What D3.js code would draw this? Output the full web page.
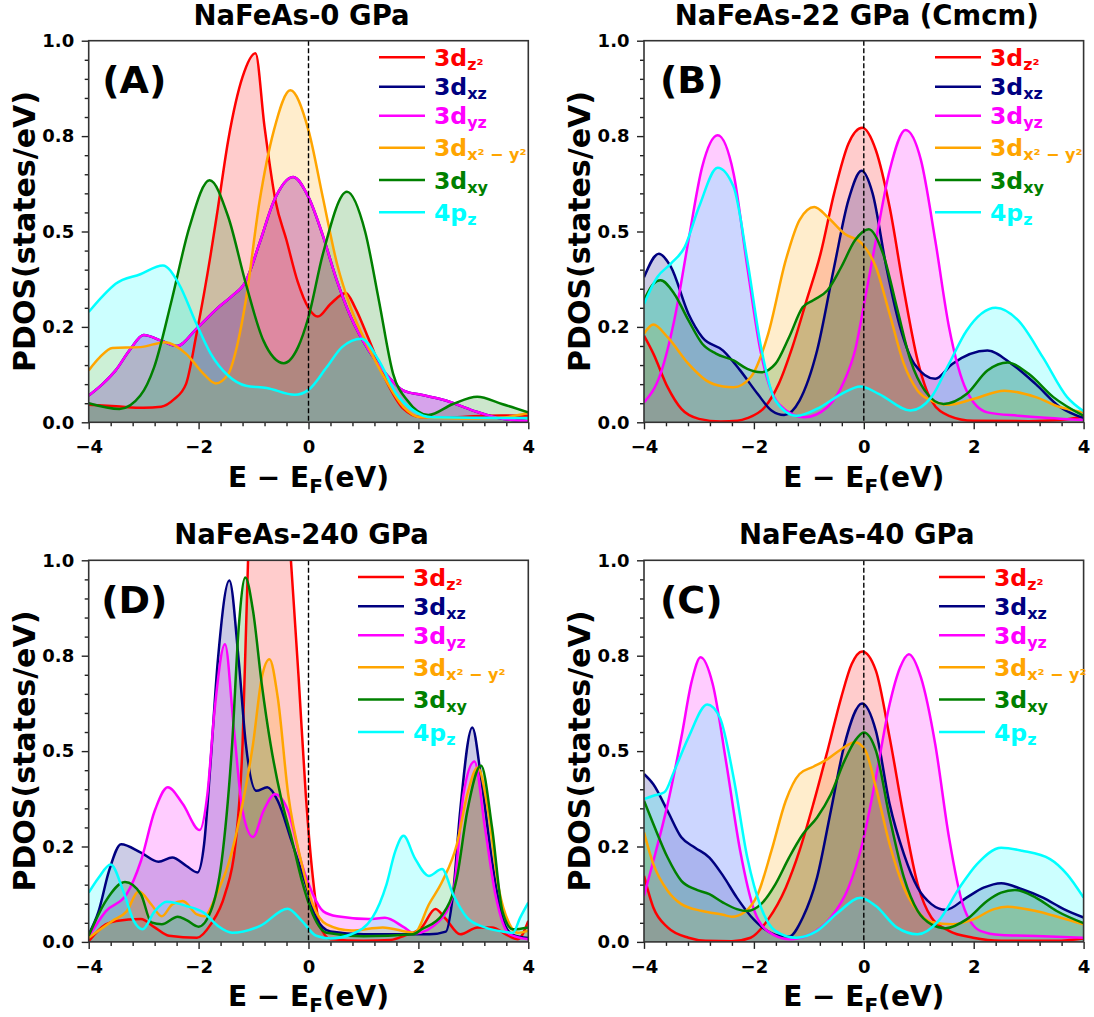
<!DOCTYPE html>
<html><head><meta charset="utf-8">
<script src="https://cdn.jsdelivr.net/npm/d3@7"></script>
<style>
body{margin:0;background:#fff}
text{font-family:"DejaVu Sans",sans-serif;font-weight:bold}
</style>
</head><body>
<svg id="chart" width="1094" height="1017"></svg>
<script>
// ---------------- DATA (E - E_F in eV, PDOS in states/eV) ----------------
const orbitals   = ["3dz2", "3dxz", "3dyz", "3dx2-y2", "3dxy", "4pz"];
const legendMain = ["3d", "3d", "3d", "3d", "3d", "4p"];
const legendSub  = ["z\u00B2", "xz", "yz", "x\u00B2 \u2212 y\u00B2", "xy", "z"];
const xTicks = [-4, -2, 0, 2, 4];
const xTickLabels = ["\u22124", "\u22122", "0", "2", "4"];
const yTicks = [0, 0.25, 0.5, 0.75, 1.0];
const yTickLabels = ["0.0", "0.2", "0.5", "0.8", "1.0"];
const panelTitles = ["NaFeAs-0 GPa", "NaFeAs-22 GPa (Cmcm)", "NaFeAs-240 GPa", "NaFeAs-40 GPa"];
const panelTags = ["(A)", "(B)", "(D)", "(C)"];

// Panel A : 0 GPa
const A_dz2 = [[-4,0.046],[-3.5,0.042],[-3.0,0.038],[-2.68,0.041],[-2.45,0.06],[-2.23,0.10],[-2.04,0.23],[-1.78,0.44],[-1.65,0.56],[-1.46,0.74],[-1.2,0.905],[-0.965,0.967],[-0.8,0.774],[-0.6,0.58],[-0.4,0.477],[-0.2,0.37],[0.0,0.30],[0.17,0.277],[0.4,0.31],[0.68,0.339],[0.85,0.3],[1.09,0.22],[1.41,0.11],[1.73,0.035],[2.05,0.013],[2.5,0.012],[3.0,0.016],[3.5,0.018],[4,0.017]];
const A_dxz = [[-4,0.07],[-3.75,0.1],[-3.51,0.136],[-3.25,0.19],[-3.0,0.229],[-2.68,0.214],[-2.39,0.2],[-2.04,0.245],[-1.65,0.30],[-1.4,0.33],[-1.14,0.37],[-0.89,0.47],[-0.63,0.58],[-0.28,0.643],[0,0.59],[0.26,0.49],[0.52,0.37],[0.77,0.276],[1.09,0.19],[1.41,0.127],[1.73,0.083],[2.05,0.072],[2.5,0.057],[3.01,0.03],[3.46,0.011],[4,0.003]];
const A_dyz = [[-4,0.07],[-3.75,0.1],[-3.51,0.136],[-3.25,0.19],[-3.0,0.229],[-2.68,0.214],[-2.39,0.2],[-2.04,0.245],[-1.65,0.30],[-1.4,0.33],[-1.14,0.37],[-0.89,0.47],[-0.63,0.58],[-0.28,0.643],[0,0.59],[0.26,0.49],[0.52,0.37],[0.77,0.276],[1.09,0.19],[1.41,0.127],[1.73,0.083],[2.05,0.072],[2.5,0.057],[3.01,0.03],[3.46,0.011],[4,0.003]];
const A_dx2 = [[-4,0.136],[-3.8,0.17],[-3.57,0.195],[-3.06,0.197],[-2.61,0.21],[-2.23,0.18],[-1.91,0.127],[-1.69,0.102],[-1.46,0.127],[-1.3,0.2],[-1.14,0.32],[-0.89,0.58],[-0.63,0.765],[-0.33,0.87],[0,0.765],[0.26,0.59],[0.52,0.415],[0.77,0.30],[1.09,0.197],[1.41,0.11],[1.73,0.04],[2.05,0.013],[2.8,0.01],[3.5,0.012],[4,0.025]];
const A_dxy = [[-4,0.05],[-3.44,0.035],[-3.06,0.07],[-2.81,0.144],[-2.49,0.32],[-2.17,0.51],[-1.8,0.634],[-1.46,0.538],[-1.14,0.363],[-0.82,0.214],[-0.45,0.155],[-0.19,0.197],[0,0.276],[0.26,0.44],[0.7,0.604],[1.03,0.50],[1.28,0.32],[1.54,0.127],[1.8,0.057],[2.18,0.019],[2.63,0.048],[3.07,0.067],[3.52,0.048],[4,0.026]];
const A_pz  = [[-4,0.289],[-3.75,0.33],[-3.51,0.363],[-3.06,0.388],[-2.65,0.411],[-2.36,0.363],[-2.04,0.258],[-1.78,0.18],[-1.46,0.122],[-1.14,0.096],[-0.76,0.09],[-0.25,0.072],[0,0.085],[0.33,0.144],[0.61,0.197],[0.96,0.219],[1.28,0.162],[1.6,0.074],[1.92,0.03],[2.24,0.013],[3,0.012],[4,0.011]];

// Panel B : 22 GPa (Cmcm)
const B_dz2 = [[-4,0.227],[-3.83,0.18],[-3.57,0.092],[-3.32,0.035],[-3.0,0.009],[-2.6,0.002],[-2.3,0.004],[-2.12,0.011],[-1.8,0.04],[-1.55,0.10],[-1.3,0.197],[-1.04,0.32],[-0.79,0.44],[-0.54,0.60],[-0.28,0.73],[-0.03,0.772],[0.22,0.713],[0.47,0.564],[0.73,0.346],[0.98,0.162],[1.23,0.057],[1.55,0.017],[1.99,0.004],[3,0.003],[3.6,0.006],[4,0.015]];
const B_dxz = [[-4,0.38],[-3.73,0.442],[-3.51,0.407],[-3.19,0.284],[-2.94,0.223],[-2.56,0.188],[-2.25,0.136],[-1.93,0.074],[-1.68,0.031],[-1.45,0.019],[-1.17,0.057],[-0.85,0.188],[-0.54,0.407],[-0.28,0.582],[-0.04,0.659],[0.16,0.60],[0.41,0.407],[0.66,0.25],[0.92,0.153],[1.3,0.114],[1.61,0.153],[2.25,0.188],[2.69,0.153],[3.13,0.10],[3.57,0.04],[4,0.011]];
const B_dyz = [[-4,0.052],[-3.7,0.127],[-3.45,0.267],[-3.19,0.477],[-2.94,0.67],[-2.66,0.752],[-2.37,0.652],[-2.12,0.407],[-1.87,0.18],[-1.55,0.048],[-1.08,0.013],[-0.66,0.04],[-0.35,0.11],[-0.16,0.188],[0.03,0.33],[0.22,0.477],[0.47,0.66],[0.76,0.766],[1.04,0.687],[1.3,0.477],[1.55,0.25],[1.87,0.083],[2.25,0.026],[2.82,0.017],[4,0.006]];
const B_dx2 = [[-4,0.232],[-3.83,0.256],[-3.57,0.223],[-3.19,0.153],[-2.87,0.11],[-2.56,0.094],[-2.37,0.092],[-2.06,0.118],[-1.74,0.232],[-1.42,0.425],[-1.17,0.53],[-0.9,0.564],[-0.66,0.538],[-0.35,0.494],[-0.03,0.468],[0.22,0.407],[0.47,0.284],[0.73,0.153],[0.98,0.083],[1.23,0.057],[1.55,0.046],[1.99,0.061],[2.56,0.083],[3.13,0.066],[3.57,0.04],[4,0.026]];
const B_dxy = [[-4,0.32],[-3.83,0.363],[-3.7,0.372],[-3.45,0.337],[-3.19,0.267],[-2.94,0.206],[-2.69,0.18],[-2.37,0.162],[-2.12,0.14],[-1.87,0.131],[-1.61,0.153],[-1.36,0.223],[-1.11,0.302],[-0.92,0.32],[-0.66,0.346],[-0.41,0.407],[-0.16,0.477],[0.09,0.506],[0.35,0.442],[0.6,0.302],[0.85,0.162],[1.11,0.083],[1.45,0.048],[1.87,0.074],[2.25,0.136],[2.62,0.157],[3.0,0.127],[3.45,0.066],[4,0.017]];
const B_pz  = [[-4,0.31],[-3.76,0.38],[-3.51,0.416],[-3.26,0.459],[-3.0,0.564],[-2.66,0.667],[-2.37,0.617],[-2.12,0.425],[-1.87,0.197],[-1.61,0.057],[-1.23,0.017],[-0.79,0.04],[-0.41,0.074],[-0.06,0.094],[0.28,0.074],[0.85,0.031],[1.23,0.066],[1.55,0.153],[1.87,0.24],[2.4,0.30],[2.81,0.267],[3.26,0.17],[3.7,0.066],[4,0.029]];

// Panel D : 240 GPa
const D_dz2 = [[-4,0.002],[-3.69,0.046],[-3.5,0.055],[-3.05,0.06],[-2.8,0.038],[-2.54,0.016],[-2.03,0.011],[-1.78,0.046],[-1.52,0.125],[-1.33,0.256],[-1.2,0.518],[-1.1,1.0],[-0.9,1.5],[-0.7,1.6],[-0.5,1.4],[-0.32,1.0],[-0.18,0.693],[-0.05,0.387],[0.08,0.168],[0.2,0.046],[0.4,0.007],[1.0,0.003],[1.5,0.005],[1.74,0.016],[2.06,0.038],[2.31,0.086],[2.5,0.06],[2.76,0.02],[3.08,0.038],[3.34,0.038],[3.59,0.02],[3.81,0.007],[4,0.055]];
const D_dxz = [[-4,0.02],[-3.82,0.08],[-3.63,0.186],[-3.41,0.256],[-3.05,0.234],[-2.73,0.21],[-2.48,0.221],[-2.22,0.199],[-2.02,0.182],[-1.9,0.256],[-1.78,0.475],[-1.65,0.737],[-1.44,0.947],[-1.27,0.737],[-1.14,0.518],[-0.95,0.396],[-0.75,0.405],[-0.56,0.37],[-0.31,0.265],[-0.05,0.151],[0.14,0.063],[0.4,0.027],[1.0,0.02],[2.2,0.02],[2.5,0.027],[2.63,0.125],[2.76,0.343],[2.98,0.562],[3.14,0.431],[3.34,0.212],[3.53,0.063],[3.72,0.018],[4,0.01]];
const D_dyz = [[-4,0.013],[-3.69,0.08],[-3.31,0.125],[-3.05,0.212],[-2.8,0.343],[-2.56,0.405],[-2.29,0.362],[-1.98,0.293],[-1.84,0.387],[-1.71,0.606],[-1.52,0.78],[-1.36,0.562],[-1.2,0.343],[-1.01,0.275],[-0.82,0.343],[-0.61,0.387],[-0.37,0.343],[-0.12,0.203],[0.08,0.125],[0.27,0.08],[0.52,0.067],[1.1,0.06],[1.39,0.063],[1.74,0.038],[1.93,0.022],[2.38,0.055],[2.63,0.125],[2.82,0.387],[3.02,0.473],[3.21,0.3],[3.4,0.125],[3.66,0.02],[4,0.007]];
const D_dx2 = [[-4,0.011],[-3.57,0.055],[-3.31,0.08],[-3.09,0.133],[-2.86,0.098],[-2.67,0.067],[-2.48,0.098],[-2.29,0.107],[-2.03,0.072],[-1.9,0.067],[-1.65,0.133],[-1.46,0.203],[-1.2,0.362],[-1.01,0.518],[-0.85,0.693],[-0.71,0.741],[-0.56,0.641],[-0.37,0.387],[-0.12,0.203],[0.08,0.098],[0.33,0.046],[0.78,0.03],[1.35,0.038],[1.93,0.024],[2.19,0.098],[2.44,0.16],[2.7,0.256],[2.89,0.387],[3.08,0.457],[3.27,0.343],[3.46,0.142],[3.66,0.046],[3.81,0.024],[4,0.029]];
const D_dxy = [[-4,0.016],[-3.69,0.107],[-3.34,0.157],[-3.05,0.125],[-2.86,0.051],[-2.67,0.046],[-2.38,0.066],[-2.22,0.057],[-2.0,0.04],[-1.78,0.08],[-1.58,0.212],[-1.39,0.518],[-1.27,0.824],[-1.15,0.955],[-1.01,0.868],[-0.85,0.675],[-0.69,0.518],[-0.5,0.378],[-0.31,0.273],[-0.12,0.16],[0.08,0.072],[0.33,0.024],[1.0,0.015],[1.9,0.02],[2.06,0.033],[2.44,0.072],[2.7,0.168],[2.89,0.343],[3.14,0.462],[3.34,0.3],[3.53,0.08],[3.72,0.033],[4,0.038]];
const D_pz  = [[-4,0.129],[-3.82,0.168],[-3.6,0.203],[-3.37,0.133],[-3.18,0.055],[-3.02,0.033],[-2.8,0.08],[-2.58,0.105],[-2.22,0.094],[-1.9,0.076],[-1.65,0.042],[-1.39,0.024],[-0.88,0.042],[-0.38,0.087],[-0.12,0.055],[0.14,0.016],[0.4,0.009],[0.78,0.02],[1.16,0.063],[1.42,0.151],[1.58,0.238],[1.73,0.278],[1.93,0.221],[2.19,0.173],[2.43,0.191],[2.63,0.125],[2.89,0.063],[3.21,0.038],[3.53,0.027],[3.72,0.024],[3.85,0.063],[4,0.103]];

// Panel C : 40 GPa
const C_dz2 = [[-4,0.173],[-3.83,0.09],[-3.57,0.038],[-3.19,0.011],[-2.88,0.003],[-2.4,0.002],[-2.06,0.011],[-1.74,0.059],[-1.42,0.142],[-1.17,0.239],[-0.92,0.361],[-0.66,0.501],[-0.41,0.641],[-0.22,0.728],[-0.03,0.761],[0.22,0.711],[0.47,0.536],[0.73,0.326],[0.98,0.151],[1.23,0.064],[1.55,0.029],[1.99,0.011],[2.5,0.003],[3.5,0.003],[4,0.009]];
const C_dxz = [[-4,0.44],[-3.83,0.413],[-3.57,0.343],[-3.32,0.274],[-3.07,0.247],[-2.81,0.221],[-2.56,0.173],[-2.31,0.116],[-2.06,0.068],[-1.8,0.033],[-1.55,0.016],[-1.36,0.014],[-1.11,0.064],[-0.85,0.169],[-0.6,0.343],[-0.35,0.518],[-0.03,0.625],[0.22,0.553],[0.47,0.361],[0.73,0.23],[0.98,0.142],[1.23,0.099],[1.49,0.084],[1.87,0.116],[2.18,0.142],[2.5,0.154],[2.88,0.138],[3.26,0.116],[3.64,0.086],[4,0.064]];
const C_dyz = [[-4,0.121],[-3.83,0.212],[-3.57,0.361],[-3.32,0.536],[-3.13,0.684],[-2.97,0.746],[-2.75,0.676],[-2.5,0.466],[-2.25,0.239],[-1.99,0.081],[-1.74,0.027],[-1.36,0.007],[-0.98,0.02],[-0.6,0.064],[-0.28,0.142],[-0.03,0.256],[0.22,0.431],[0.47,0.623],[0.66,0.719],[0.82,0.754],[1.04,0.693],[1.3,0.518],[1.55,0.274],[1.8,0.099],[2.12,0.029],[2.5,0.018],[3.26,0.015],[4,0.011]];
const C_dx2 = [[-4,0.287],[-3.83,0.204],[-3.57,0.134],[-3.32,0.099],[-2.94,0.081],[-2.56,0.071],[-2.4,0.066],[-2.18,0.077],[-1.93,0.125],[-1.68,0.239],[-1.42,0.37],[-1.17,0.44],[-0.92,0.459],[-0.66,0.479],[-0.41,0.505],[-0.16,0.523],[0.03,0.501],[0.22,0.405],[0.47,0.256],[0.73,0.142],[0.98,0.081],[1.23,0.052],[1.61,0.046],[1.99,0.059],[2.37,0.086],[2.62,0.092],[3.13,0.081],[3.57,0.064],[4,0.046]];
const C_dxy = [[-4,0.37],[-3.83,0.309],[-3.57,0.221],[-3.32,0.16],[-3.07,0.138],[-2.81,0.125],[-2.56,0.103],[-2.31,0.086],[-2.12,0.081],[-1.87,0.099],[-1.61,0.151],[-1.36,0.221],[-1.11,0.282],[-0.85,0.326],[-0.6,0.387],[-0.35,0.475],[-0.16,0.527],[0,0.549],[0.22,0.501],[0.47,0.326],[0.73,0.169],[0.98,0.081],[1.23,0.046],[1.49,0.036],[1.87,0.059],[2.25,0.108],[2.5,0.129],[2.75,0.136],[3.13,0.116],[3.51,0.081],[4,0.049]];
const C_pz  = [[-4,0.374],[-3.83,0.383],[-3.63,0.392],[-3.45,0.448],[-3.19,0.536],[-2.85,0.622],[-2.62,0.588],[-2.37,0.431],[-2.12,0.221],[-1.87,0.09],[-1.61,0.029],[-1.23,0.011],[-0.85,0.029],[-0.47,0.077],[-0.06,0.116],[0.22,0.094],[0.6,0.038],[0.98,0.02],[1.36,0.055],[1.74,0.142],[2.06,0.204],[2.5,0.247],[2.88,0.239],[3.39,0.217],[3.7,0.177],[4,0.116]];

// ---------------- STYLE / LAYOUT ----------------
const colors = ["#ff0000", "#000080", "#ff00ff", "#ffa500", "#008000", "#00ffff"];
const W = 439.6, H = 381.6;
const panels = [
  {title: panelTitles[0], tag: panelTags[0], series: [A_dz2, A_dxz, A_dyz, A_dx2, A_dxy, A_pz], left: 88.7, top: 40.7, legX: 379, tagX: 13.5},
  {title: panelTitles[1], tag: panelTags[1], series: [B_dz2, B_dxz, B_dyz, B_dx2, B_dxy, B_pz], left: 644,  top: 40.7, legX: 935, tagX: 16},
  {title: panelTitles[2], tag: panelTags[2], series: [D_dz2, D_dxz, D_dyz, D_dx2, D_dxy, D_pz], left: 88.7, top: 560.3, legX: 358, tagX: 12.5},
  {title: panelTitles[3], tag: panelTags[3], series: [C_dz2, C_dxz, C_dyz, C_dx2, C_dxy, C_pz], left: 644,  top: 560.3, legX: 939, tagX: 16}
];
const legendRows = [16.6, 46, 75, 107, 139.3, 171.6];

const svg = d3.select("#chart");
svg.append("rect").attr("width", 1094).attr("height", 1017).attr("fill", "#fff");

panels.forEach((p, pi) => {
  const g = svg.append("g").attr("transform", `translate(${p.left},${p.top})`);
  const x = d3.scaleLinear().domain([-4, 4]).range([0, W]);
  const y = d3.scaleLinear().domain([0, 1]).range([H, 0]);

  const clipId = "clip" + pi;
  g.append("clipPath").attr("id", clipId).append("rect").attr("width", W).attr("height", H);
  const plot = g.append("g").attr("clip-path", `url(#${clipId})`);

  const area = d3.area().x(d => x(d[0])).y0(y(0)).y1(d => y(d[1])).curve(d3.curveMonotoneX);
  const line = d3.line().x(d => x(d[0])).y(d => y(d[1])).curve(d3.curveMonotoneX);

  // fills below (zorder 1), lines above (zorder 2)
  p.series.forEach((s, i) => {
    plot.append("path").datum(s).attr("d", area).attr("fill", colors[i]).attr("fill-opacity", 0.2);
  });
  p.series.forEach((s, i) => {
    plot.append("path").datum(s).attr("d", line).attr("fill", "none")
      .attr("stroke", colors[i]).attr("stroke-width", 2.5).attr("stroke-linejoin", "round");
  });

  // Fermi level
  plot.append("line").attr("x1", x(0)).attr("x2", x(0)).attr("y1", 0).attr("y2", H)
    .attr("stroke", "#000").attr("stroke-width", 1.4).attr("stroke-dasharray", "5,2.5");

  // axes - minor ticks
  const xMinor = d3.range(-4, 4.0001, 0.4).filter(v => !xTicks.some(t => Math.abs(t - v) < 1e-6));
  const yMinor = d3.range(0, 1.0001, 0.05).filter(v => !yTicks.some(t => Math.abs(t - v) < 1e-6));
  const xm = g.append("g").attr("transform", `translate(0,${H})`)
    .call(d3.axisBottom(x).tickValues(xMinor).tickSize(4).tickFormat(""));
  const ym = g.append("g").call(d3.axisLeft(y).tickValues(yMinor).tickSize(4).tickFormat(""));
  // major
  const xa = g.append("g").attr("transform", `translate(0,${H})`)
    .call(d3.axisBottom(x).tickValues(xTicks).tickSize(7).tickPadding(11)
      .tickFormat((d, i) => xTickLabels[i]));
  const ya = g.append("g")
    .call(d3.axisLeft(y).tickValues(yTicks).tickSize(7).tickPadding(7.5)
      .tickFormat((d, i) => yTickLabels[i]));
  [xm, ym, xa, ya].forEach(a => {
    a.select(".domain").remove();
    a.selectAll("line").attr("stroke", "#222").attr("stroke-width", 1.4);
    a.selectAll("text").attr("font-size", 18).attr("font-family", "DejaVu Sans").attr("font-weight", "bold").attr("fill", "#000");
  });

  // frame
  g.append("rect").attr("width", W).attr("height", H).attr("fill", "none")
    .attr("stroke", "#333").attr("stroke-width", 1.6);

  // title
  g.append("text").attr("x", W / 2 - 7).attr("y", -16).attr("text-anchor", "middle")
    .attr("font-size", 27.5).text(p.title);

  // panel tag
  g.append("text").attr("x", p.tagX).attr("y", 52.5).attr("font-size", 38).text(p.tag);

  // x label
  const xl = g.append("text").attr("x", W / 2).attr("y", H + 64.5).attr("text-anchor", "middle").attr("font-size", 28);
  xl.append("tspan").text("E \u2212 E");
  xl.append("tspan").attr("font-size", 20).attr("dy", 6).text("F");
  xl.append("tspan").attr("dy", -6).text("(eV)");

  // y label
  g.append("text").attr("transform", `translate(-54,${H / 2}) rotate(-90)`)
    .attr("text-anchor", "middle").attr("font-size", 30).text("PDOS(states/eV)");

  // legend
  const lg = svg.append("g");
  orbitals.forEach((o, i) => {
    const yy = p.top + legendRows[i];
    lg.append("line").attr("x1", p.legX).attr("x2", p.legX + 46).attr("y1", yy).attr("y2", yy)
      .attr("stroke", colors[i]).attr("stroke-width", 2.5);
    const t = lg.append("text").attr("x", p.legX + 55).attr("y", yy + 8.6).attr("font-size", 23.5).attr("fill", colors[i]);
    t.append("tspan").text(legendMain[i]);
    t.append("tspan").attr("font-size", 16).attr("dy", 4).text(legendSub[i]);
  });
});
</script>
</body></html>
